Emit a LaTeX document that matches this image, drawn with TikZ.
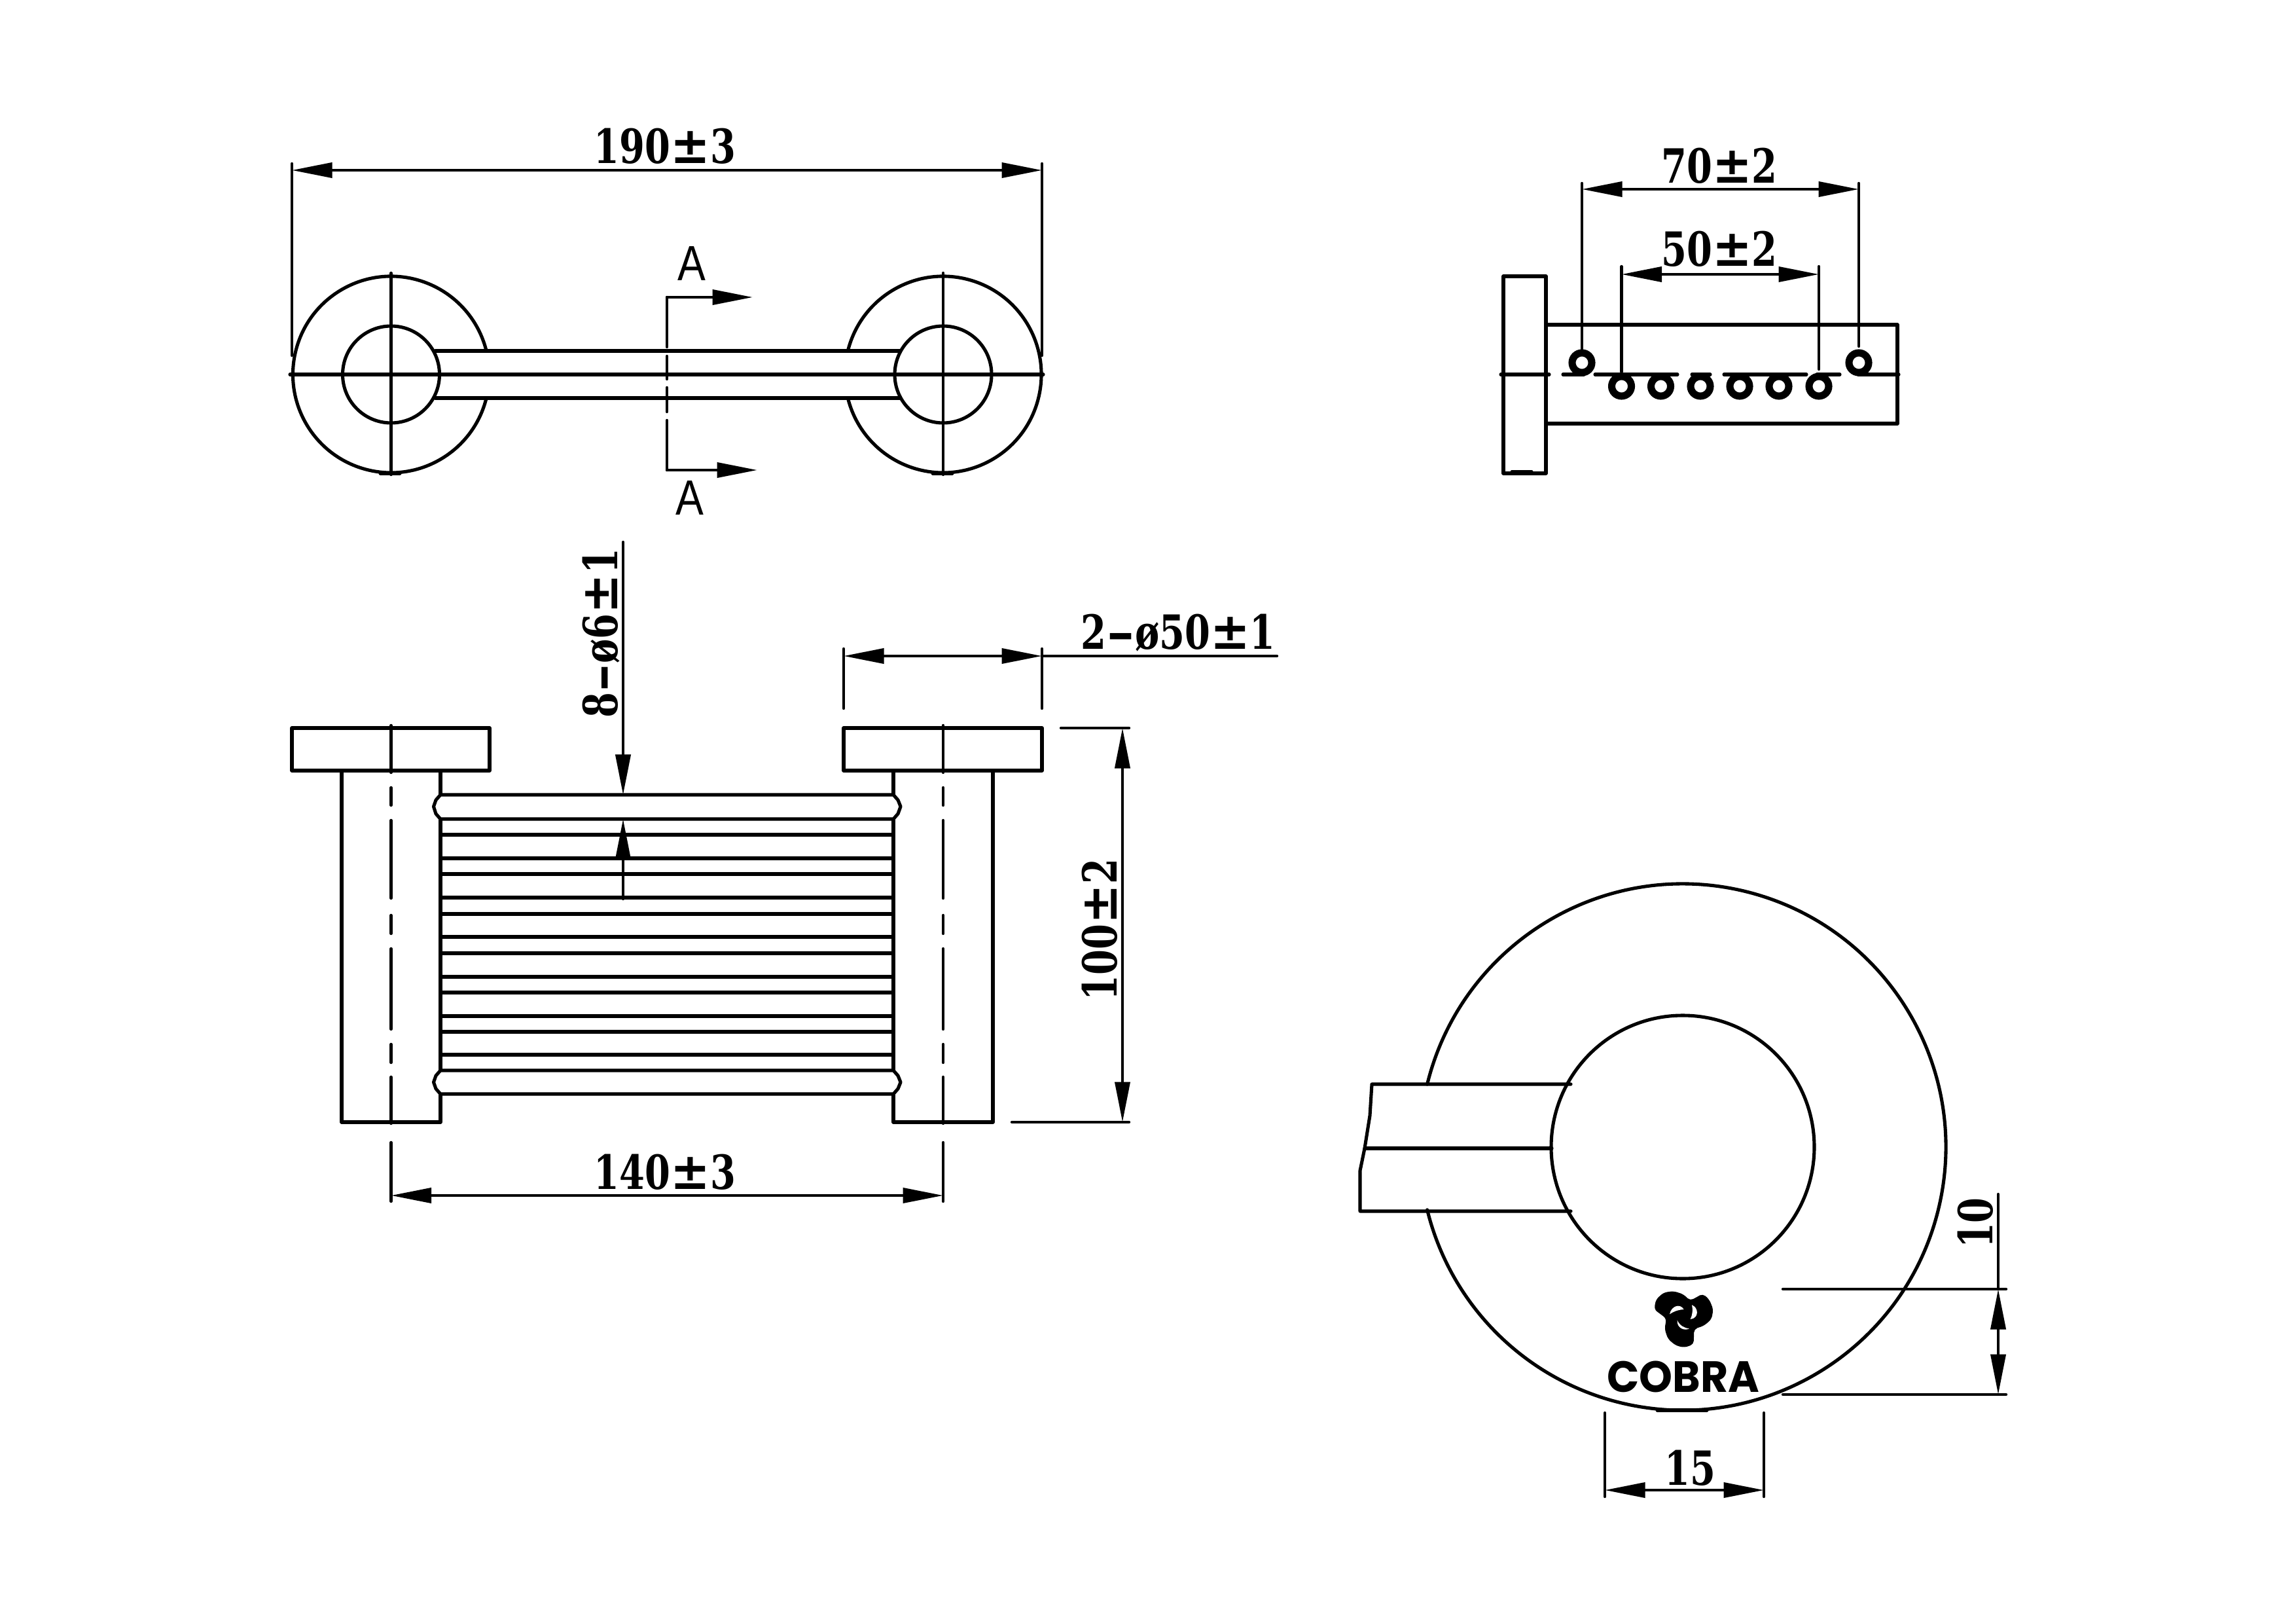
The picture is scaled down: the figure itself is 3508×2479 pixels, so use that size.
\documentclass[tikz,border=0pt]{standalone}
\usepackage{fontspec}
\usepackage{graphicx}
\usetikzlibrary{arrows.meta}
\setmainfont{Liberation Serif}
\setsansfont{Liberation Sans}
\newfontfamily\cobrafont{Poppins}
\newfontfamily\dimfont{DejaVu Serif}
\newcommand{\tol}{\scalebox{1.3}[1.08]{±}}
\newcommand{\dash}{\scalebox{1.9}[1]{-}}
\newcommand{\dm}[1]{\scalebox{0.775}[1]{\dimfont\bfseries #1}}
\tikzset{
  x=0.2mm,y=-0.2mm,
  part/.style={line width=2.9pt,line cap=round,line join=round},
  dim/.style={line width=2.5pt,line cap=round},
  ring/.style={line width=6.3pt,fill=white},
  dimboth/.style={dim,{Triangle[length=35pt,width=13pt]}-{Triangle[length=35pt,width=13pt]}},
  dimend/.style={dim,-{Triangle[length=35pt,width=13pt]}},
  dimtext/.style={inner sep=0pt,outer sep=0pt,font=\fontsize{41}{50}\selectfont},
  letter/.style={inner sep=0pt,outer sep=0pt,font=\fontsize{43}{50}\selectfont\sffamily},
}
\begin{document}
\begin{tikzpicture}
\useasboundingbox (0,0) rectangle (3508,2479);
% ---------- TOP VIEW ----------
\coordinate (cL) at (597.5,572);
\coordinate (cR) at (1441,572);
\draw[part] (cL) ++(13.9:150) arc[start angle=13.9,end angle=346.1,radius=150];
\draw[part] (cR) ++(193.9:150) arc[start angle=193.9,end angle=526.1,radius=150];
\draw[part] (cL) circle[radius=74];
\draw[part] (cR) circle[radius=74];
\draw[part] (665,536) -- (1375,536);
\draw[part] (665,608) -- (1375,608);
\draw[part] (443,572) -- (1594,572);
\draw[dim] (597.5,417) -- (597.5,725);
\draw[dim] (1441,417) -- (1441,725);
\draw[part] (581,723) -- (611,723);
\draw[part] (1425,723) -- (1455,723);
% section line
\coordinate (sT) at (1019,454); \coordinate (sB) at (1019,718);
\coordinate (sTa) at (1150,454); \coordinate (sBa) at (1157,718);
\draw[dim] (sT) -- (1019,530); \draw[dim] (1019,544) -- (1019,579);
\draw[dim] (1019,592) -- (1019,629); \draw[dim] (1019,642) -- (sB);
\draw[dimend] (sT) -- (sTa);
\draw[dimend] (sB) -- (sBa);
\node[letter,xscale=0.85,transform shape] (aT) at (1057,403) {A};
\node[letter,xscale=0.85,transform shape] (aB) at (1054,761) {A};
% overall dim
\coordinate (d190L) at (446,260); \coordinate (d190R) at (1592,260);
\draw[dim] (446,250) -- (446,543);
\draw[dim] (1592,250) -- (1592,543);
\draw[dimboth] (d190L) -- (d190R);
\node[dimtext] (t190) at (1016,223) {\dm{190\tol3}};
% ---------- SIDE VIEW ----------
\draw[part] (2297,422) rectangle (2362,723);
\draw[part] (2362,496) -- (2899,496) -- (2899,647) -- (2362,647);
\draw[part] (2310,720.5) -- (2340,720.5);
\foreach \a/\b in {2293/2367,2388/2420,2437/2563,2585/2613,2634/2760,2776/2811,2839/2901}
  \draw[part] (\a,572) -- (\b,572);
\foreach \x in {2417,2840}
  \draw[ring] (\x,554) circle[radius=15];
\foreach \x in {2477.5,2537.5,2598,2658,2718,2779}
  \draw[ring] (\x,590) circle[radius=15];
\coordinate (d70L) at (2417,289); \coordinate (d70R) at (2840,289);
\coordinate (d50L) at (2477.5,419); \coordinate (d50R) at (2779,419);
\draw[dim] (2417,280) -- (2417,533);
\draw[dim] (2840,280) -- (2840,529);
\draw[dim] (2477.5,407) -- (2477.5,568);
\draw[dim] (2779,407) -- (2779,564);
\draw[dimboth] (d70L) -- (d70R);
\draw[dimboth] (d50L) -- (d50R);
\node[dimtext] (t70) at (2627,253) {\dm{70\tol2}};
\node[dimtext] (t50) at (2627,380) {\dm{50\tol2}};
% ---------- FRONT VIEW ----------
\draw[part] (446,1112) rectangle (748,1177);
\draw[part] (1289,1112) rectangle (1592,1177);
\draw[part] (522,1177) -- (522,1714) -- (673,1714) -- (673,1177);
\draw[part] (1365,1177) -- (1365,1714) -- (1517,1714) -- (1517,1177);
\foreach \y in {1275,1311,1335,1371,1396,1431,1456,1492,1516,1552,1576,1611}
  \draw[part] (673,\y) -- (1365,\y);
\foreach \t/\b in {1214/1251,1635/1671}{
  \draw[part,fill=white] (673,\t) -- (1365,\t) -- (1372,\t+8) -- (1376,\t+18) -- (1372,\b-8) -- (1365,\b)
     -- (673,\b) -- (666,\b-8) -- (662.5,\t+18) -- (666,\t+8) -- cycle;
}
\foreach \x in {597.5,1441}{
  \draw[dim] (\x,1108) -- (\x,1180);
  \foreach \a/\b in {1203/1230,1253/1372,1398/1426,1449/1572,1595/1623,1645/1716}
    \draw[dim] (\x,\a) -- (\x,\b);
  \draw[dim] (\x,1745) -- (\x,1835);
}
% 140
\coordinate (d140L) at (597.5,1826); \coordinate (d140R) at (1441,1826);
\draw[dimboth] (d140L) -- (d140R);
\node[dimtext] (t140) at (1016,1790) {\dm{140\tol3}};
% 2-dia50
\coordinate (d50aL) at (1289,1002); \coordinate (d50aR) at (1592,1002);
\coordinate (lead) at (1951,1002);
\draw[dim] (1289,991) -- (1289,1082);
\draw[dim] (1592,991) -- (1592,1082);
\draw[dimboth] (d50aL) -- (d50aR);
\draw[dim] (d50aR) -- (lead);
\node[dimtext] (tdia50) at (1800,967) {\dm{2\dash ø50\tol1}};
% 8-dia6
\coordinate (ar1) at (952,828); \coordinate (ar1t) at (952,1214);
\coordinate (ar2) at (952,1373); \coordinate (ar2t) at (952,1251);
\draw[dimend] (ar1) -- (ar1t);
\draw[dimend] (ar2) -- (ar2t);
\node[dimtext,rotate=90] (tdia6) at (919,967) {\dm{8\dash ø6\tol1}};
% 100
\coordinate (d100T) at (1715,1112); \coordinate (d100B) at (1715,1714);
\draw[dim] (1621,1112) -- (1725,1112);
\draw[dim] (1546,1714) -- (1725,1714);
\draw[dimboth] (d100T) -- (d100B);
\node[dimtext,rotate=90] (t100) at (1680,1420) {\dm{100\tol2}};
% ---------- DETAIL VIEW ----------
\coordinate (cB) at (2571,1752);
\draw[part] (cB) ++(193.8:402) arc[start angle=193.8,end angle=526.2,radius=402];
\draw[part] (cB) circle[radius=201];
\draw[part] (2400,1656) -- (2096,1656) -- (2093,1704) -- (2085,1754) -- (2078,1788) -- (2078,1850) -- (2400,1850);
\draw[part] (2085,1754) -- (2371,1754);
\draw[part] (2532,2154) -- (2608,2154);
% logo
\begin{scope}[shift={(2420,1950)},x=0.0666667mm,y=-0.0666667mm]
  \fill[rounded corners=3pt] (322,150) -- (330,105) -- (365,73) -- (410,66) -- (455,80) -- (487,110)
    -- (520,92) -- (545,78) -- (575,105) -- (593,150) -- (585,195) -- (550,225) -- (505,240)
    -- (503,310) -- (460,325) -- (420,315) -- (385,285) -- (370,240) -- (378,192) -- cycle;
  \fill[white] (393,172) .. controls (400,135) and (440,120) .. (458,150) .. controls (430,152) and (410,160) .. cycle;
  \fill[white] (488,195) .. controls (530,190) and (525,140) .. (495,130) .. controls (500,150) and (498,175) .. cycle;
  \fill[white] (428,200) .. controls (425,235) and (460,250) .. (483,238) .. controls (460,235) and (440,225) .. cycle;
\end{scope}
\node[inner sep=0pt,outer sep=0pt,font=\cobrafont\fontsize{38}{40}\selectfont\bfseries,xscale=0.97,transform shape] (cobra) at (2572,2103) {COBRA};
% dims
\coordinate (d10T) at (3053,1969); \coordinate (d10B) at (3053,2130);
\draw[dim] (2724,1969) -- (3065,1969);
\draw[dim] (2724,2130) -- (3065,2130);
\draw[dim] (3053,1824) -- (d10T);
\draw[dimboth] (d10T) -- (d10B);
\node[dimtext,rotate=90] (t10) at (3018,1868) {\dm{10}};
\coordinate (d15L) at (2452,2276); \coordinate (d15R) at (2695,2276);
\draw[dim] (2452,2158) -- (2452,2286);
\draw[dim] (2695,2158) -- (2695,2286);
\draw[dimboth] (d15L) -- (d15R);
\node[dimtext] (t15) at (2582,2242) {\dm{15}};
\end{tikzpicture}
\end{document}
